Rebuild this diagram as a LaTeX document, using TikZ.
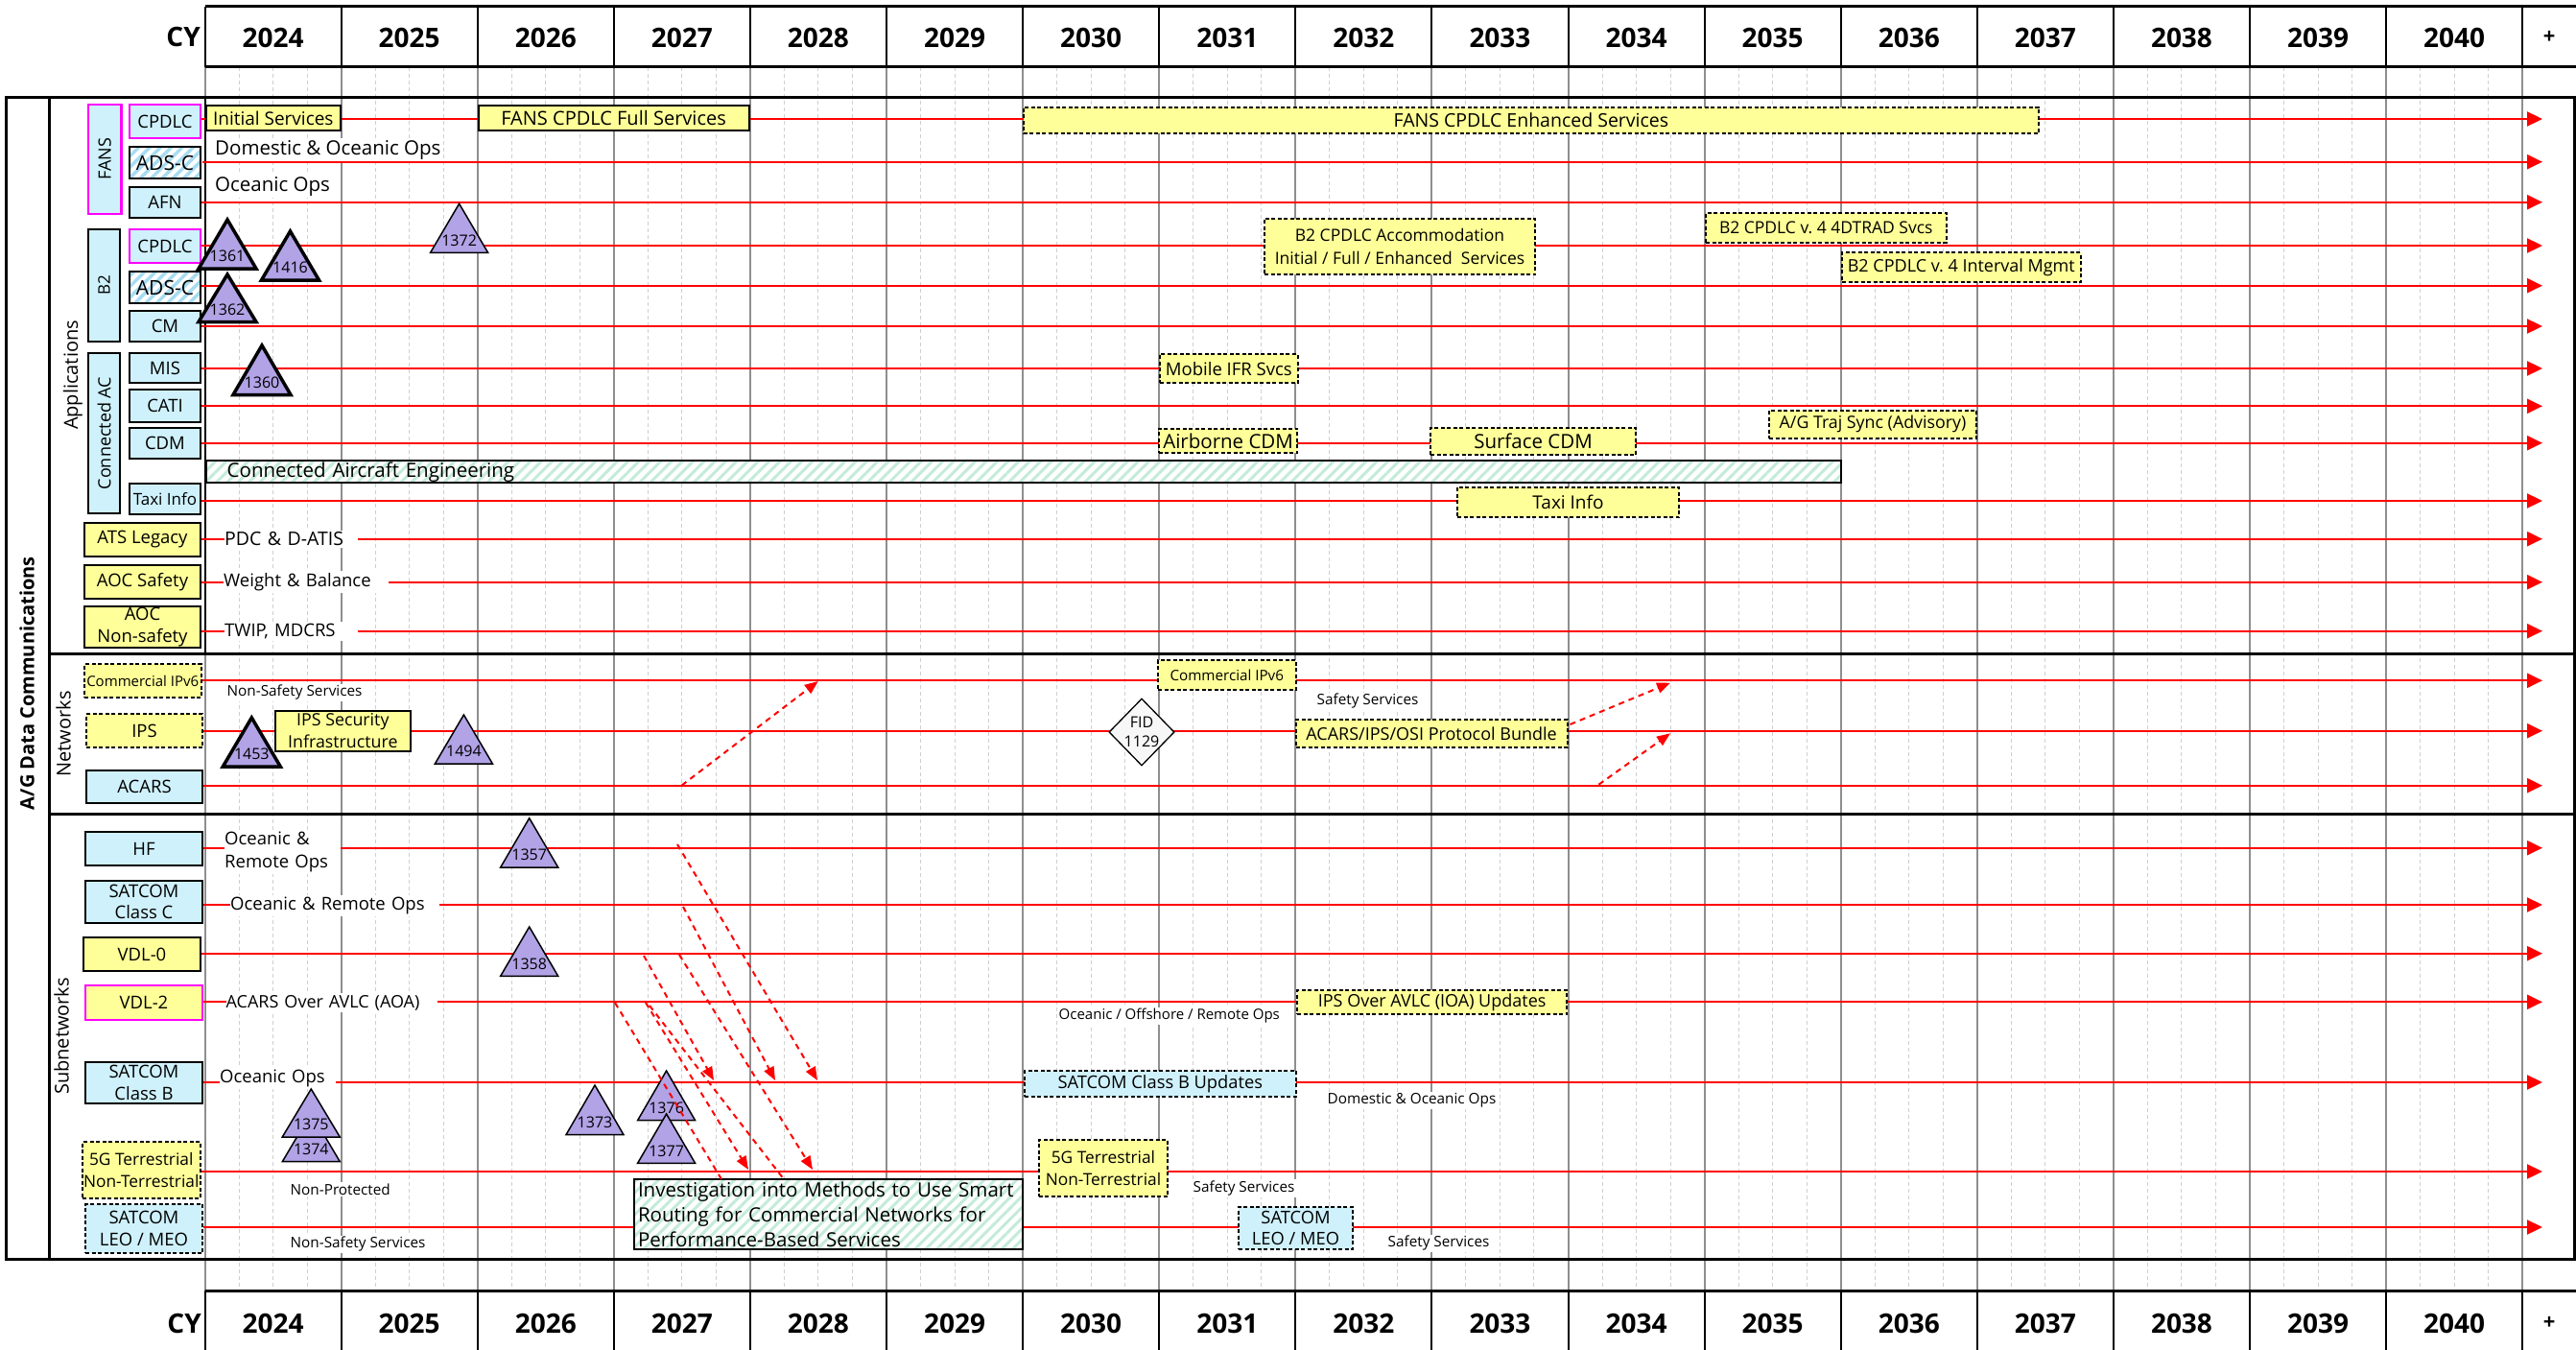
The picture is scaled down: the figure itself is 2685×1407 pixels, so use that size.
\documentclass[tikz,border=0pt]{standalone}
\usepackage{fontspec}
\setmainfont{Open Sans}
\usetikzlibrary{arrows.meta,shapes.geometric,patterns.meta}
\definecolor{cyf}{HTML}{CFF1FB}
\definecolor{ylf}{HTML}{FFFF99}
\definecolor{puf}{HTML}{B1A3E6}
\definecolor{mgb}{HTML}{FF00FF}
\definecolor{rdl}{HTML}{FF0000}
\definecolor{hgr}{HTML}{C4EBDA}
\definecolor{hbl}{HTML}{A6DCF2}
\definecolor{gyl}{HTML}{8E8E8E}
\definecolor{gyq}{HTML}{CFCFCF}
\newcommand{\myfz}[2]{\fontsize{#1}{#2}\selectfont}
\tikzset{
  lblbase/.style={line width=2pt, inner sep=0pt, align=center, font=\myfz{18.5}{22}},
  cybox/.style={lblbase, draw=black, fill=cyf},
  ylbox/.style={lblbase, draw=black, fill=ylf},
  mgcy/.style={lblbase, draw=mgb, line width=2.5pt, fill=cyf},
  hatchbox/.style={lblbase, draw=black, preaction={fill=white}, pattern={Lines[angle=45,distance=8pt,line width=3.5pt]}, pattern color=hbl},
  dsh/.style={dash pattern=on 4pt off 2.5pt},
  tb/.style={draw=black, line width=2pt, fill=ylf, inner sep=0pt, align=center, font=\myfz{19}{23}},
  tbd/.style={tb, dsh},
  hatchg/.style={draw=black, line width=2pt, preaction={fill=white}, pattern={Lines[angle=45,distance=8pt,line width=3pt]}, pattern color=hgr},
  gap/.style={fill=white, anchor=west, inner xsep=0pt, inner ysep=2pt, align=left, font=\myfz{18.5}{23}},
  note/.style={fill=white, anchor=west, inner sep=1.5pt, font=\myfz{15.3}{18}},
  notebig/.style={fill=white, anchor=west, inner sep=2pt, font=\myfz{20.5}{24}},
  rline/.style={draw=rdl, line width=2.2pt, -{Triangle[length=16pt,width=15pt]}},
  rdash/.style={draw=rdl, line width=2pt, dash pattern=on 6pt off 5pt, -{Triangle[length=14pt,width=11pt]}},
  rdashn/.style={draw=rdl, line width=2pt, dash pattern=on 6pt off 5pt},
  trithick/.style={fill=puf, draw=black, line width=3.5pt, line join=miter},
  trithin/.style={fill=puf, draw=black, line width=1.5pt, line join=miter},
  trinum/.style={inner sep=0pt, font=\myfz{16}{18}},
  yr/.style={inner sep=0pt, font=\bfseries\myfz{28}{32}},
  seclbl/.style={rotate=90, inner sep=0pt, font=\myfz{20}{24}},
}
\newcommand{\mytri}[5]{%
  \draw[#5] ({#2-30},#4) -- (#2,#3) -- ({#2+30},#4) -- cycle;
  \node[trinum] (t#1) at (#2,{#4-13}) {#1};}
\newcommand{\rrow}[3]{%
  \coordinate (e#1) at (2650,#3);
  \draw[rline] (#2.east |- e#1) -- (e#1);}
\begin{document}
\begin{tikzpicture}[x=1pt,y=-1pt]
\useasboundingbox (0,0) rectangle (2685,1407);
\fill[white] (0,0) rectangle (2685,1407);

% ---------- grid ----------
\foreach \i in {0,...,16}{
  \foreach \k in {1,2,3}{
    \draw[gyq, line width=1pt, dash pattern=on 4pt off 3pt] ({213.5+\i*142.1+\k*35.525},70) -- ({213.5+\i*142.1+\k*35.525},1345);
  }
}
\foreach \i in {0,...,17}{
  \draw[gyl, line width=2pt] ({213.5+\i*142.1},70) -- ({213.5+\i*142.1},1345);
}

% ---------- headers ----------
\draw[line width=3pt] (213.5,7) -- (2685,7);
\draw[line width=3pt] (213.5,70) -- (2685,70);
\draw[line width=3pt] (213.5,1345) -- (2685,1345);
\foreach \i in {0,...,17}{
  \draw[line width=2pt] ({213.5+\i*142.1},7) -- ({213.5+\i*142.1},70);
  \draw[line width=2pt] ({213.5+\i*142.1},1345) -- ({213.5+\i*142.1},1407);
}
\foreach \yr [count=\c from 0] in {2024,...,2040}{
  \node[yr] (top\yr) at ({213.5+\c*142.1+71.05},39) {\yr};
  \node[yr] (bot\yr) at ({213.5+\c*142.1+71.05},1379) {\yr};
}
\node[yr, font=\bfseries\myfz{22}{26}] (topplus) at (2657,39) {+};
\node[yr, font=\bfseries\myfz{22}{26}] (botplus) at (2657,1379) {+};
\node[yr, anchor=east] (topcy) at (209,39) {CY};
\node[yr, anchor=east] (botcy) at (210,1379) {CY};

% ---------- frame ----------
\draw[line width=3pt] (6,102) rectangle (2683,1312);
\draw[line width=3pt] (51.5,102) -- (51.5,1312);
\draw[line width=3pt] (51.5,681.7) -- (2683,681.7);
\draw[line width=3pt] (51.5,848) -- (2683,848);
\draw[line width=2pt] (213.5,102) -- (213.5,681.7);

\node[seclbl, font=\bfseries\myfz{20}{24}] (agdc) at (28,712) {A/G Data Communications};
\node[seclbl] (apps) at (76,391) {Applications};
\node[seclbl] (nets) at (66,765) {Networks};
\node[seclbl] (subs) at (64,1080) {Subnetworks};

% ---------- label column ----------
\node[mgcy, rotate=90, minimum width=114pt, minimum height=34.5pt, font=\myfz{18}{20}] (gfans) at (109.25,166) {FANS};
\node[mgcy, minimum width=74pt, minimum height=35pt] (fcp) at (172,126.5) {CPDLC};
\node[hatchbox, minimum width=74pt, minimum height=33pt, font=\myfz{21}{24}] (fads) at (172,169.5) {ADS-C};
\node[cybox, minimum width=74pt, minimum height=32pt] (fafn) at (172,211) {AFN};
\node[cybox, rotate=90, minimum width=117pt, minimum height=33pt, font=\myfz{17}{20}] (gbtwo) at (108.5,297.5) {B2};
\node[mgcy, minimum width=74pt, minimum height=35pt] (bcp) at (172,256.5) {CPDLC};
\node[hatchbox, minimum width=74pt, minimum height=33pt, font=\myfz{21}{24}] (bads) at (172,299.5) {ADS-C};
\node[cybox, minimum width=74pt, minimum height=32pt] (bcm) at (172,340) {CM};
\node[cybox, rotate=90, minimum width=167pt, minimum height=33pt, font=\myfz{18}{20}] (gcac) at (108.5,451.5) {Connected AC};
\node[cybox, minimum width=74pt, minimum height=31pt] (mis) at (172,383.5) {MIS};
\node[cybox, minimum width=74pt, minimum height=34pt] (cati) at (172,423) {CATI};
\node[cybox, minimum width=74pt, minimum height=32pt] (cdm) at (172,462) {CDM};
\node[cybox, minimum width=74pt, minimum height=32pt, font=\myfz{17}{20}] (taxi) at (172,520) {Taxi Info};
\node[ylbox, minimum width=121pt, minimum height=35pt] (ats) at (148.5,562.5) {ATS Legacy};
\node[ylbox, minimum width=121pt, minimum height=35pt] (aocs) at (148.5,606.5) {AOC Safety};
\node[ylbox, minimum width=121pt, minimum height=43pt, font=\myfz{18.5}{22.7}] (aocn) at (148.5,653.5) {AOC\\Non-safety};
\node[ylbox, dsh, minimum width=121.5pt, minimum height=35pt, font=\myfz{15}{18}] (cip) at (148.75,709.5) {Commercial IPv6};
\node[ylbox, dsh, minimum width=121pt, minimum height=35pt] (ips) at (150.5,761.5) {IPS};
\node[cybox, minimum width=121pt, minimum height=34pt] (acars) at (150.5,820) {ACARS};
\node[cybox, minimum width=122pt, minimum height=35pt] (hf) at (150,884.5) {HF};
\node[cybox, minimum width=122pt, minimum height=44pt, font=\myfz{18.5}{22.7}] (scc) at (150,940) {SATCOM\\Class C};
\node[ylbox, line width=2.5pt, minimum width=122pt, minimum height=35pt] (vdlz) at (148,994.5) {VDL-0};
\node[ylbox, draw=mgb, line width=2.5pt, minimum width=122pt, minimum height=36pt] (vdlt) at (150,1045) {VDL-2};
\node[cybox, minimum width=122pt, minimum height=43pt, font=\myfz{18.5}{22.7}] (scb) at (150,1128.5) {SATCOM\\Class B};
\node[ylbox, dsh, minimum width=122.5pt, minimum height=59pt, font=\myfz{17.3}{23.3}] (gfive) at (147.25,1219.5) {5G Terrestrial\\Non-Terrestrial};
\node[cybox, dsh, minimum width=122pt, minimum height=51pt, font=\myfz{18.5}{22.7}] (leo) at (150,1280.5) {SATCOM\\LEO / MEO};

% ---------- above-line labels ----------
\node[notebig] (tdom) at (222,156) {Domestic \& Oceanic Ops};
\node[notebig] (toce) at (222,194) {Oceanic Ops};
\node[note] (nnsa) at (235,721.7) {Non-Safety Services};
\node[note] (nssa) at (1371,730.7) {Safety Services};
\node[note, font=\myfz{15}{18}] (noor) at (1102,1059) {Oceanic / Offshore / Remote Ops};
\node[note] (ndoo) at (1382,1146.7) {Domestic \& Oceanic Ops};
\node[note] (nnp) at (301,1239.3) {Non-Protected};
\node[note] (nssb) at (1242,1238.3) {Safety Services};
\node[note] (nnsb) at (301,1296.7) {Non-Safety Services};
\node[note] (nssc) at (1445,1295.7) {Safety Services};

% ---------- timelines ----------
\rrow{FCP}{fcp}{124}
\rrow{FADS}{fads}{168.7}
\rrow{FAFN}{fafn}{210.7}
\rrow{BCP}{bcp}{256}
\rrow{BADS}{bads}{297.7}
\rrow{BCM}{bcm}{340}
\rrow{MIS}{mis}{384}
\rrow{CATI}{cati}{423.3}
\rrow{CDM}{cdm}{461.7}
\rrow{TAXI}{taxi}{522}
\rrow{ATS}{ats}{561.7}
\rrow{AOCS}{aocs}{606.7}
\rrow{AOCN}{aocn}{657.7}
\rrow{CIP}{cip}{709.3}
\rrow{IPS}{ips}{761.7}
\rrow{ACARS}{acars}{818.7}
\rrow{HF}{hf}{883.7}
\rrow{SCC}{scc}{943}
\rrow{VDLZ}{vdlz}{993.7}
\rrow{VDLT}{vdlt}{1044.3}
\rrow{SCB}{scb}{1128}
\rrow{GF}{gfive}{1221}
\rrow{LEO}{leo}{1279}

% ---------- on-line labels ----------
\node[gap, text width=139pt, font=\myfz{19.5}{23}] (gpdc) at (234,561.7) {PDC \& D-ATIS};
\node[gap, text width=172pt] (gwb) at (233,606.7) {Weight \& Balance};
\node[gap, text width=139pt] (gtw) at (234,657.7) {TWIP, MDCRS};
\node[gap, text width=121pt, font=\myfz{18.5}{23.3}] (ghf) at (234,888) {Oceanic \&\\Remote Ops};
\node[gap, text width=218pt] (gscc) at (240,944) {Oceanic \& Remote Ops};
\node[gap, text width=220pt, font=\myfz{18}{22}] (gvdl) at (235.5,1045) {ACARS Over AVLC (AOA)};
\node[gap, text width=121pt] (gscb) at (229,1124) {Oceanic Ops};

% ---------- timeline boxes ----------
\node[tb, minimum width=139.6pt, minimum height=26pt] (initS) at (284.8,123) {Initial Services};
\node[tb, minimum width=282.1pt, minimum height=26pt, font=\myfz{20}{23}] (fullS) at (639.55,123) {FANS CPDLC Full Services};
\node[tbd, minimum width=1058.3pt, minimum height=27.3pt, font=\myfz{19.5}{23}] (enhS) at (1595.85,125.35) {FANS CPDLC Enhanced Services};
\node[tbd, minimum width=282pt, minimum height=58.3pt, font=\myfz{17.5}{23.3}] (btacc) at (1459,256.85) {B2 CPDLC Accommodation\\Initial / Full / Enhanced\ \ Services};
\node[tbd, minimum width=250.5pt, minimum height=31pt, font=\myfz{17.5}{21}] (btfd) at (1903.25,237.2) {B2 CPDLC v.\ 4 4DTRAD Svcs};
\node[tbd, minimum width=248.6pt, minimum height=30.7pt, font=\myfz{18}{21}] (btim) at (2044.3,278.65) {B2 CPDLC v.\ 4 Interval Mgmt};
\node[tbd, minimum width=143.7pt, minimum height=30pt, font=\myfz{18.5}{21}] (mifr) at (1280.85,384.3) {Mobile IFR Svcs};
\node[tbd, minimum width=144.6pt, minimum height=25.6pt, font=\myfz{20.5}{23}] (aircdm) at (1280.1,459.5) {Airborne CDM};
\node[tbd, minimum width=214pt, minimum height=28.6pt, font=\myfz{20.5}{23}] (surfcdm) at (1598,460) {Surface CDM};
\node[tbd, minimum width=216pt, minimum height=29pt, font=\myfz{17.8}{21}] (agts) at (1952,442.2) {A/G Traj Sync (Advisory)};
\node[hatchg, minimum height=23.3pt, text width=1660pt, inner xsep=22pt, inner ysep=0pt, align=left, font=\myfz{20.5}{23}] (cae) at (1066.7,491.65) {Connected Aircraft Engineering};
\node[tbd, minimum width=231pt, minimum height=31.3pt] (taxiT) at (1634.5,523.35) {Taxi Info};
\node[tbd, minimum width=143.6pt, minimum height=31.3pt, font=\myfz{15.2}{18}] (cipT) at (1278.8,703.35) {Commercial IPv6};
\node[tb, minimum width=140.7pt, minimum height=42pt, font=\myfz{17.8}{22.7}] (ipssec) at (357.35,761.7) {IPS Security\\Infrastructure};
\node[tbd, minimum width=283pt, minimum height=29pt, font=\myfz{18}{21}] (bundle) at (1492.1,764.5) {ACARS/IPS/OSI Protocol Bundle};
\node[tbd, minimum width=281.3pt, minimum height=24.4pt, font=\myfz{18}{21}] (ioa) at (1492.65,1044.5) {IPS Over AVLC (IOA) Updates};
\node[tbd, fill=cyf, minimum width=282.6pt, minimum height=27.3pt, font=\myfz{18.3}{21}] (scbU) at (1209.3,1129.65) {SATCOM Class B Updates};
\node[tbd, minimum width=134.7pt, minimum height=58.4pt, font=\myfz{17.3}{23.3}] (gfiveT) at (1149.95,1217.5) {5G Terrestrial\\Non-Terrestrial};
\node[hatchg, text width=396.8pt, inner xsep=4pt, inner ysep=0pt, minimum height=73.3pt, align=left, font=\myfz{20.5}{26}] (inv) at (863.4,1265.65) {Investigation into Methods to Use Smart\\Routing for Commercial Networks for\\Performance-Based Services};
\node[tbd, fill=cyf, minimum width=119pt, minimum height=44pt, font=\myfz{18.3}{22}] (leoT) at (1350.5,1279.7) {SATCOM\\LEO / MEO};

% ---------- milestones ----------
\mytri{1361}{237}{229}{280}{trithick}
\mytri{1416}{302.5}{241}{292}{trithick}
\mytri{1372}{478.6}{212.3}{263.3}{trithin}
\mytri{1362}{237}{286}{335.5}{trithick}
\mytri{1360}{273}{360}{411.5}{trithick}
\mytri{1453}{262.3}{748}{799}{trithick}
\mytri{1494}{483.4}{745}{796}{trithin}
\mytri{1357}{551.7}{852.7}{904}{trithin}
\mytri{1358}{551.7}{966}{1017.3}{trithin}
\mytri{1374}{324.3}{1160}{1210.7}{trithin}
\mytri{1375}{324.3}{1135}{1185}{trithin}
\mytri{1373}{620}{1131}{1182.7}{trithin}
\mytri{1376}{694.6}{1116}{1167.7}{trithin}
\mytri{1377}{694.6}{1161}{1212.3}{trithin}
\node[diamond, draw=black, line width=1.3pt, fill=gray!6, minimum width=52pt, minimum height=70pt, inner sep=0pt, align=center, font=\myfz{16}{20}] (fid) at (1190,763) {FID\\1129};

% ---------- transitions ----------
\coordinate (naS) at (710.6,818.5); \coordinate (naE) at (852.8,710);
\coordinate (nbS) at (1636.5,755);  \coordinate (nbE) at (1741,711.7);
\coordinate (ncS) at (1666.4,817.7); \coordinate (ncE) at (1741,764.3);
\draw[rdash] (naS) -- (naE);
\draw[rdash] (nbS) -- (nbE);
\draw[rdash] (ncS) -- (ncE);
\coordinate (saS) at (706,880);  \coordinate (saE) at (852,1126);
\coordinate (sbS) at (712,945);  \coordinate (sbE) at (808,1126);
\coordinate (scS) at (671,996);  \coordinate (scE) at (744,1126);
\coordinate (sdS) at (641,1045); \coordinate (sdE) at (752,1229);
\coordinate (seS) at (673,1045); \coordinate (seE) at (780,1219);
\coordinate (sfS) at (677,1048); \coordinate (sfE) at (817,1229);
\coordinate (sgS) at (708,995);  \coordinate (sgE) at (847,1219);
\draw[rdash] (saS) -- (saE);
\draw[rdash] (sbS) -- (sbE);
\draw[rdash] (scS) -- (scE);
\draw[rdashn] (sdS) -- (sdE);
\draw[rdash] (seS) -- (seE);
\draw[rdashn] (sfS) -- (sfE);
\draw[rdash] (sgS) -- (sgE);
\end{tikzpicture}
\end{document}
